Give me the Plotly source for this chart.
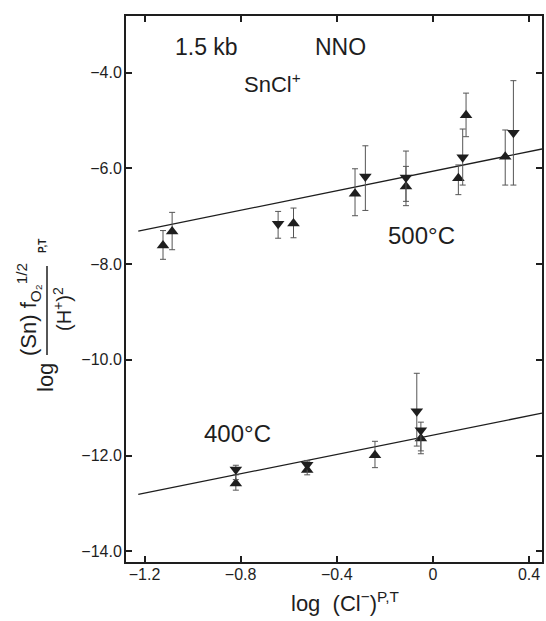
import plotly.graph_objects as go

# ---------------- data ----------------
# 500 °C, upward triangles
t500_up_x = [-1.123, -1.085, -0.580, -0.324, -0.112, 0.106, 0.138, 0.301]
t500_up_y = [-7.61, -7.32, -7.15, -6.53, -6.38, -6.21, -4.89, -5.76]
t500_up_hi = [-7.30, -6.92, -6.83, -6.01, -5.96, -5.93, -4.43, -5.20]
t500_up_lo = [-7.90, -7.70, -7.45, -6.99, -6.78, -6.55, -5.34, -6.35]

# 500 °C, downward triangles
t500_dn_x = [-0.644, -0.281, -0.112, 0.124, 0.335]
t500_dn_y = [-7.16, -6.17, -6.19, -5.77, -5.26]
t500_dn_hi = [-6.90, -5.53, -5.64, -5.18, -4.17]
t500_dn_lo = [-7.46, -6.88, -6.69, -6.35, -6.35]

# 400 °C, upward triangles
t400_up_x = [-0.820, -0.523, -0.241, -0.050]
t400_up_y = [-12.58, -12.30, -11.99, -11.64]
t400_up_hi = [-12.40, -12.13, -11.70, -11.45]
t400_up_lo = [-12.72, -12.40, -12.25, -11.96]

# 400 °C, downward triangles
t400_dn_x = [-0.820, -0.523, -0.067, -0.050]
t400_dn_y = [-12.29, -12.19, -11.07, -11.47]
t400_dn_hi = [-12.20, -12.10, -10.28, -11.30]
t400_dn_lo = [-12.50, -12.35, -11.80, -11.90]

# fitted lines (500 °C, 400 °C)
fit_slope = [1.02, 1.01]
fit_intercept = [-6.06, -11.57]
fit_x = [-1.226, 0.454]

# ticks
x_ticks = [-1.2, -0.8, -0.4, 0.0, 0.4]
x_ticklabels = ["\u22121.2", "\u22120.8", "\u22120.4", "0", "0.4"]
y_ticks = [-4, -6, -8, -10, -12, -14]
y_ticklabels = ["\u22124.0", "\u22126.0", "\u22128.0", "\u221210.0", "\u221212.0", "\u221214.0"]

FONT = "Liberation Sans, Arial, sans-serif"
INK = "#1e1e1e"

fig = go.Figure()


def add_points(xs, ys, hi, lo, symbol):
    fig.add_trace(go.Scatter(
        x=xs, y=ys, mode="markers",
        marker=dict(symbol=symbol, size=11, color=INK, line=dict(width=0)),
        error_y=dict(type="data", symmetric=False,
                     array=[h - y for h, y in zip(hi, ys)],
                     arrayminus=[y - l for l, y in zip(lo, ys)],
                     color="#555555", thickness=1, width=3),
        showlegend=False, hoverinfo="skip", cliponaxis=False))


for m, b in zip(fit_slope, fit_intercept):
    fig.add_trace(go.Scatter(
        x=fit_x, y=[b + m * xv for xv in fit_x], mode="lines",
        line=dict(color=INK, width=1.3), showlegend=False, hoverinfo="skip"))

add_points(t500_up_x, t500_up_y, t500_up_hi, t500_up_lo, "triangle-up")
add_points(t500_dn_x, t500_dn_y, t500_dn_hi, t500_dn_lo, "triangle-down")
add_points(t400_up_x, t400_up_y, t400_up_hi, t400_up_lo, "triangle-up")
add_points(t400_dn_x, t400_dn_y, t400_dn_hi, t400_dn_lo, "triangle-down")

axis_common = dict(
    showline=True, linewidth=2, linecolor=INK, mirror="ticks",
    ticks="inside", ticklen=6, tickwidth=1.5, tickcolor=INK,
    showgrid=False, zeroline=False, automargin=False,
    tickfont=dict(family=FONT, size=16, color=INK),
)

fig.update_layout(
    width=546, height=621,
    margin=dict(l=126, r=4, t=16, b=59, autoexpand=False),
    plot_bgcolor="white", paper_bgcolor="white",
    xaxis=dict(range=[-1.277, 0.454], tickvals=x_ticks, ticktext=x_ticklabels,
               ticklabelstandoff=-3, **axis_common),
    yaxis=dict(range=[-14.22, -2.82], tickvals=y_ticks, ticktext=y_ticklabels,
               ticklabelstandoff=-1, **axis_common),
    font=dict(family=FONT, color=INK),
)

# in-plot labels
labels = [
    ("1.5 kb", -1.0825, -3.47, 23),
    ("NNO", -0.498, -3.47, 23),
    ("SnCl<sup>+</sup>", -0.796, -4.22, 22),
    ("500\u00b0C", -0.195, -7.41, 24),
    ("400\u00b0C", -0.96, -11.53, 24),
]
for txt, xv, yv, fs in labels:
    fig.add_annotation(x=xv, y=yv, xref="x", yref="y", text=txt, showarrow=False,
                       xanchor="left", yanchor="middle",
                       font=dict(family=FONT, size=fs, color=INK))

# x-axis title
fig.add_annotation(x=(345 - 126) / 416, y=(562 - 602) / 546, xref="paper", yref="paper",
                   text="log  (Cl<sup>\u2212</sup>)<sup>P,T</sup>", showarrow=False,
                   xanchor="center", yanchor="middle",
                   font=dict(family=FONT, size=22, color=INK))

# y-axis title built as a fraction
fig.add_annotation(x=(45 - 126) / 416, y=(562 - 378) / 546, xref="paper", yref="paper",
                   text="log", textangle=-90, showarrow=False,
                   xanchor="center", yanchor="middle",
                   font=dict(family=FONT, size=22, color=INK))
fig.add_annotation(x=(28 - 126) / 416, y=(562 - 310) / 546, xref="paper", yref="paper",
                   text="(Sn) f<sub>O\u2082</sub><sup>1/2</sup>", textangle=-90, showarrow=False,
                   xanchor="center", yanchor="middle",
                   font=dict(family=FONT, size=22, color=INK))
fig.add_annotation(x=(62 - 126) / 416, y=(562 - 309) / 546, xref="paper", yref="paper",
                   text="(H<sup>+</sup>)<sup>2</sup>", textangle=-90, showarrow=False,
                   xanchor="center", yanchor="middle",
                   font=dict(family=FONT, size=20, color=INK))
fig.add_annotation(x=(43 - 126) / 416, y=(562 - 246) / 546, xref="paper", yref="paper",
                   text="<b>P,T</b>", textangle=-90, showarrow=False,
                   xanchor="center", yanchor="middle",
                   font=dict(family=FONT, size=10, color=INK))
fig.add_shape(type="line", xref="paper", yref="paper",
              x0=(47 - 126) / 416, x1=(47 - 126) / 416,
              y0=(562 - 266) / 546, y1=(562 - 355) / 546,
              line=dict(color=INK, width=1.5))

fig.write_html("out.html",
               config={"displayModeBar": False},
               post_script="document.body.style.margin='0';document.body.style.overflow='hidden';")
